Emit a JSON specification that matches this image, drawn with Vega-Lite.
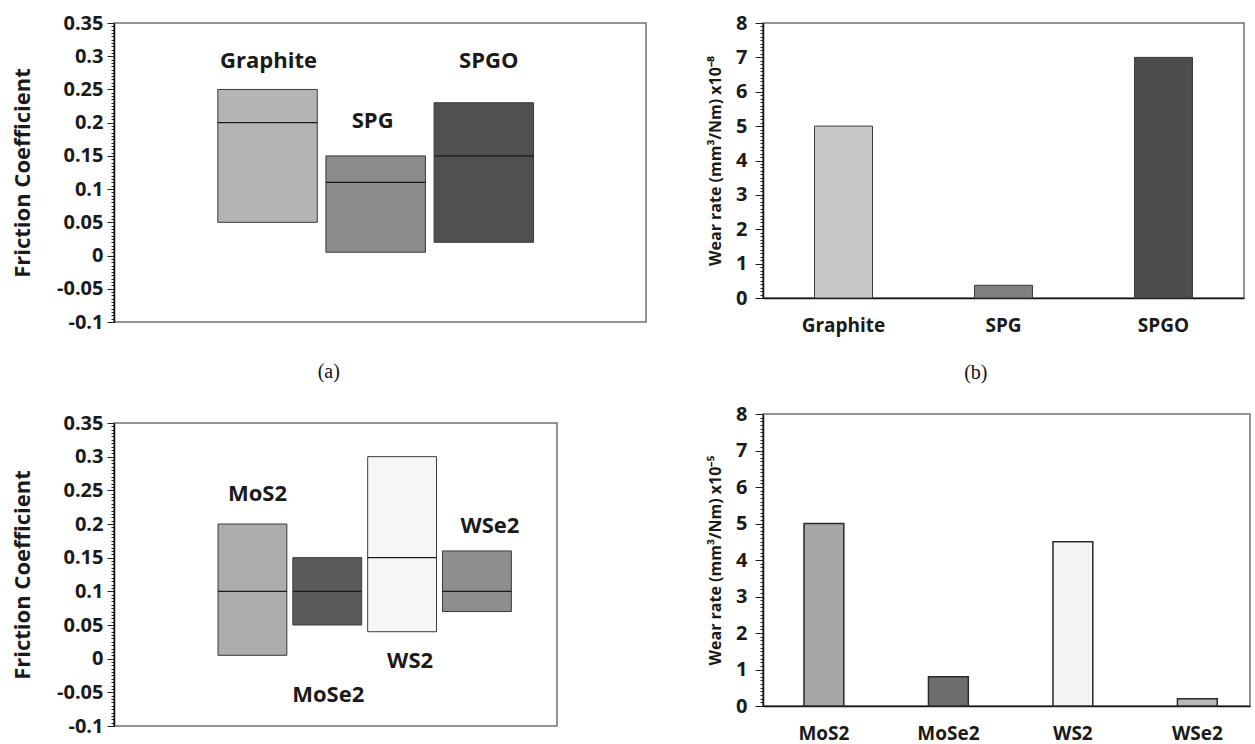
{
  "$schema": "https://vega.github.io/schema/vega-lite/v6.json",
  "background": "white",
  "padding": {"left": 10, "top": 12, "right": 0, "bottom": 0},
  "config": {
    "font": "Open Sans",
    "view": {"stroke": "#707070", "strokeWidth": 1.5},
    "text": {"font": "Open Sans", "fontWeight": "bold", "color": "#1a1a1a", "baseline": "middle"}
  },
  "datasets": {
    "friction1": [
      {"material": "Graphite", "low": 0.05, "high": 0.25, "mean": 0.2},
      {"material": "SPG", "low": 0.005, "high": 0.15, "mean": 0.11},
      {"material": "SPGO", "low": 0.02, "high": 0.23, "mean": 0.15}
    ],
    "wear1": [
      {"material": "Graphite", "wear": 5},
      {"material": "SPG", "wear": 0.37},
      {"material": "SPGO", "wear": 7}
    ],
    "friction2": [
      {"material": "MoS2", "low": 0.005, "high": 0.2, "mean": 0.1},
      {"material": "MoSe2", "low": 0.05, "high": 0.15, "mean": 0.1},
      {"material": "WS2", "low": 0.04, "high": 0.3, "mean": 0.15},
      {"material": "WSe2", "low": 0.07, "high": 0.16, "mean": 0.1}
    ],
    "wear2": [
      {"material": "MoS2", "wear": 5},
      {"material": "MoSe2", "wear": 0.8},
      {"material": "WS2", "wear": 4.5},
      {"material": "WSe2", "wear": 0.2}
    ]
  },
  "spacing": 59,
  "resolve": {"scale": {"fill": "independent"}},
  "hconcat": [
    {
      "spacing": 29,
      "resolve": {"scale": {"fill": "independent"}},
      "vconcat": [
        {
          "width": 532,
          "height": 299,
          "title": {"text": "(a)", "orient": "bottom", "frame": "bounds", "anchor": "middle", "font": "Liberation Serif", "fontSize": 20, "fontWeight": "normal", "color": "#111", "offset": 30},
          "data": {"name": "friction1"},
          "encoding": {
            "x": {"field": "material", "type": "nominal", "sort": null, "scale": {"paddingInner": 0.08, "paddingOuter": 1.53, "align": 0.48}, "axis": null},
            "y": {"field": "low", "type": "quantitative", "scale": {"domain": [-0.1, 0.35], "nice": false, "zero": false},
              "axis": {"title": "Friction Coefficient", "titleFontSize": 22, "titleFontWeight": "bold", "titleColor": "#1a1a1a", "titlePadding": 22,
                "values": [-0.1,-0.095,-0.09,-0.085,-0.08,-0.075,-0.07,-0.065,-0.06,-0.055,-0.05,-0.045,-0.04,-0.035,-0.03,-0.025,-0.02,-0.015,-0.01,-0.005,0,0.005,0.01,0.015,0.02,0.025,0.03,0.035,0.04,0.045,0.05,0.055,0.06,0.065,0.07,0.075,0.08,0.085,0.09,0.095,0.1,0.105,0.11,0.115,0.12,0.125,0.13,0.135,0.14,0.145,0.15,0.155,0.16,0.165,0.17,0.175,0.18,0.185,0.19,0.195,0.2,0.205,0.21,0.215,0.22,0.225,0.23,0.235,0.24,0.245,0.25,0.255,0.26,0.265,0.27,0.275,0.28,0.285,0.29,0.295,0.3,0.305,0.31,0.315,0.32,0.325,0.33,0.335,0.34,0.345,0.35],
                "labelExpr": "abs(datum.value*20 - round(datum.value*20)) < 0.01 ? replace(format(datum.value, '.2~f'), '−', '-') : ''",
                "labelOverlap": false, "labelFlush": false, "labelFontSize": 20, "labelFontWeight": "bold", "labelColor": "#1a1a1a", "labelPadding": 4,
                "tickSize": {"condition": {"test": "abs(datum.value*20 - round(datum.value*20)) < 0.01", "value": 7}, "value": 3},
                "tickColor": "#222", "tickWidth": 1, "domainColor": "#111", "domainWidth": 1.5, "grid": false}}
          },
          "layer": [
            {
              "mark": {"type": "bar", "stroke": "#3a3a3a", "strokeWidth": 1},
              "encoding": {
                "y2": {"field": "high"},
                "fill": {"field": "material", "type": "nominal", "scale": {"domain": ["Graphite", "SPG", "SPGO"], "range": ["#b4b4b4", "#8c8c8c", "#505050"]}, "legend": null}
              }
            },
            {
              "mark": {"type": "bar", "fillOpacity": 0, "stroke": "#1a1a1a", "strokeWidth": 1.2},
              "encoding": {"y": {"field": "mean", "type": "quantitative"}, "y2": {"field": "mean"}}
            },
            {"transform": [{"filter": "datum.material == 'Graphite'"}], "mark": {"type": "text", "fontSize": 22, "dy": -28, "dx": 1}, "encoding": {"y": {"field": "high", "type": "quantitative"}, "text": {"field": "material"}}},
            {"transform": [{"filter": "datum.material == 'SPG'"}], "mark": {"type": "text", "fontSize": 22, "dy": -35, "dx": -3}, "encoding": {"y": {"field": "high", "type": "quantitative"}, "text": {"field": "material"}}},
            {"transform": [{"filter": "datum.material == 'SPGO'"}], "mark": {"type": "text", "fontSize": 22, "dy": -42, "dx": 5}, "encoding": {"y": {"field": "high", "type": "quantitative"}, "text": {"field": "material"}}}
          ]
        },
        {
          "width": 443,
          "height": 303,
          "data": {"name": "friction2"},
          "encoding": {
            "x": {"field": "material", "type": "nominal", "sort": null, "scale": {"paddingInner": 0.08, "paddingOuter": 1.396, "align": 0.695}, "axis": null},
            "y": {"field": "low", "type": "quantitative", "scale": {"domain": [-0.1, 0.35], "nice": false, "zero": false},
              "axis": {"title": "Friction Coefficient", "titleFontSize": 22, "titleFontWeight": "bold", "titleColor": "#1a1a1a", "titlePadding": 22,
                "values": [-0.1,-0.095,-0.09,-0.085,-0.08,-0.075,-0.07,-0.065,-0.06,-0.055,-0.05,-0.045,-0.04,-0.035,-0.03,-0.025,-0.02,-0.015,-0.01,-0.005,0,0.005,0.01,0.015,0.02,0.025,0.03,0.035,0.04,0.045,0.05,0.055,0.06,0.065,0.07,0.075,0.08,0.085,0.09,0.095,0.1,0.105,0.11,0.115,0.12,0.125,0.13,0.135,0.14,0.145,0.15,0.155,0.16,0.165,0.17,0.175,0.18,0.185,0.19,0.195,0.2,0.205,0.21,0.215,0.22,0.225,0.23,0.235,0.24,0.245,0.25,0.255,0.26,0.265,0.27,0.275,0.28,0.285,0.29,0.295,0.3,0.305,0.31,0.315,0.32,0.325,0.33,0.335,0.34,0.345,0.35],
                "labelExpr": "abs(datum.value*20 - round(datum.value*20)) < 0.01 ? replace(format(datum.value, '.2~f'), '−', '-') : ''",
                "labelOverlap": false, "labelFlush": false, "labelFontSize": 20, "labelFontWeight": "bold", "labelColor": "#1a1a1a", "labelPadding": 4,
                "tickSize": {"condition": {"test": "abs(datum.value*20 - round(datum.value*20)) < 0.01", "value": 7}, "value": 3},
                "tickColor": "#222", "tickWidth": 1, "domainColor": "#111", "domainWidth": 1.5, "grid": false}}
          },
          "layer": [
            {
              "mark": {"type": "bar", "stroke": "#3a3a3a", "strokeWidth": 1},
              "encoding": {
                "y2": {"field": "high"},
                "fill": {"field": "material", "type": "nominal", "scale": {"domain": ["MoS2", "MoSe2", "WS2", "WSe2"], "range": ["#acacac", "#5a5a5a", "#f6f6f6", "#8e8e8e"]}, "legend": null}
              }
            },
            {
              "mark": {"type": "bar", "fillOpacity": 0, "stroke": "#1a1a1a", "strokeWidth": 1.2},
              "encoding": {"y": {"field": "mean", "type": "quantitative"}, "y2": {"field": "mean"}}
            },
            {"transform": [{"filter": "datum.material == 'MoS2'"}], "mark": {"type": "text", "fontSize": 22, "dy": -30, "dx": 5}, "encoding": {"y": {"field": "high", "type": "quantitative"}, "text": {"field": "material"}}},
            {"transform": [{"filter": "datum.material == 'MoSe2'"}], "mark": {"type": "text", "fontSize": 22, "dy": 70, "dx": 1}, "encoding": {"text": {"field": "material"}}},
            {"transform": [{"filter": "datum.material == 'WS2'"}], "mark": {"type": "text", "fontSize": 22, "dy": 29, "dx": 8}, "encoding": {"text": {"field": "material"}}},
            {"transform": [{"filter": "datum.material == 'WSe2'"}], "mark": {"type": "text", "fontSize": 22, "dy": -25, "dx": 13}, "encoding": {"y": {"field": "high", "type": "quantitative"}, "text": {"field": "material"}}}
          ]
        }
      ]
    },
    {
      "spacing": 19,
      "resolve": {"scale": {"fill": "independent"}},
      "vconcat": [
        {
          "width": 481,
          "height": 275,
          "title": {"text": "(b)", "orient": "bottom", "frame": "bounds", "anchor": "middle", "font": "Liberation Serif", "fontSize": 20, "fontWeight": "normal", "color": "#111", "offset": 28},
          "data": {"name": "wear1"},
          "mark": {"type": "bar", "stroke": "#3a3a3a", "strokeWidth": 1},
          "encoding": {
            "x": {"field": "material", "type": "nominal", "sort": null, "scale": {"paddingInner": 0.6375, "paddingOuter": 0.322, "align": 0.5},
              "axis": {"title": null, "labelAngle": 0, "labelFontSize": 19, "labelFontWeight": "bold", "labelColor": "#1a1a1a", "ticks": false, "labelPadding": 18, "domainColor": "#111", "domainWidth": 1.5}},
            "y": {"field": "wear", "type": "quantitative", "scale": {"domain": [0, 8], "nice": false},
              "axis": {"title": "Wear rate (mm³/Nm) x10⁻⁸", "titleFontSize": 16, "titleFontWeight": "bold", "titleColor": "#1a1a1a", "titlePadding": 12,
                "values": [0,0.1,0.2,0.3,0.4,0.5,0.6,0.7,0.8,0.9,1,1.1,1.2,1.3,1.4,1.5,1.6,1.7,1.8,1.9,2,2.1,2.2,2.3,2.4,2.5,2.6,2.7,2.8,2.9,3,3.1,3.2,3.3,3.4,3.5,3.6,3.7,3.8,3.9,4,4.1,4.2,4.3,4.4,4.5,4.6,4.7,4.8,4.9,5,5.1,5.2,5.3,5.4,5.5,5.6,5.7,5.8,5.9,6,6.1,6.2,6.3,6.4,6.5,6.6,6.7,6.8,6.9,7,7.1,7.2,7.3,7.4,7.5,7.6,7.7,7.8,7.9,8],
                "labelExpr": "abs(datum.value - round(datum.value)) < 0.01 ? format(datum.value, 'd') : ''",
                "labelOverlap": false, "labelFlush": false, "labelFontSize": 20, "labelFontWeight": "bold", "labelColor": "#1a1a1a", "labelPadding": 8,
                "tickSize": {"condition": {"test": "abs(datum.value - round(datum.value)) < 0.01", "value": 8}, "value": 3},
                "tickColor": "#222", "tickWidth": 1, "domainColor": "#111", "domainWidth": 1.5, "grid": false}},
            "fill": {"field": "material", "type": "nominal", "scale": {"domain": ["Graphite", "SPG", "SPGO"], "range": ["#c8c8c8", "#808080", "#4d4d4d"]}, "legend": null}
          }
        },
        {
          "width": 487,
          "height": 292,
          "data": {"name": "wear2"},
          "mark": {"type": "bar", "stroke": "#2a2a2a", "strokeWidth": 1.5},
          "encoding": {
            "x": {"field": "material", "type": "nominal", "sort": null, "scale": {"paddingInner": 0.68, "paddingOuter": 0.296, "align": 0.556},
              "axis": {"title": null, "labelAngle": 0, "labelFontSize": 19, "labelFontWeight": "bold", "labelColor": "#1a1a1a", "ticks": false, "labelPadding": 18, "domainColor": "#111", "domainWidth": 1.5}},
            "y": {"field": "wear", "type": "quantitative", "scale": {"domain": [0, 8], "nice": false},
              "axis": {"title": "Wear rate (mm³/Nm) x10⁻⁵", "titleFontSize": 16, "titleFontWeight": "bold", "titleColor": "#1a1a1a", "titlePadding": 12,
                "values": [0,0.1,0.2,0.3,0.4,0.5,0.6,0.7,0.8,0.9,1,1.1,1.2,1.3,1.4,1.5,1.6,1.7,1.8,1.9,2,2.1,2.2,2.3,2.4,2.5,2.6,2.7,2.8,2.9,3,3.1,3.2,3.3,3.4,3.5,3.6,3.7,3.8,3.9,4,4.1,4.2,4.3,4.4,4.5,4.6,4.7,4.8,4.9,5,5.1,5.2,5.3,5.4,5.5,5.6,5.7,5.8,5.9,6,6.1,6.2,6.3,6.4,6.5,6.6,6.7,6.8,6.9,7,7.1,7.2,7.3,7.4,7.5,7.6,7.7,7.8,7.9,8],
                "labelExpr": "abs(datum.value - round(datum.value)) < 0.01 ? format(datum.value, 'd') : ''",
                "labelOverlap": false, "labelFlush": false, "labelFontSize": 20, "labelFontWeight": "bold", "labelColor": "#1a1a1a", "labelPadding": 8,
                "tickSize": {"condition": {"test": "abs(datum.value - round(datum.value)) < 0.01", "value": 8}, "value": 3},
                "tickColor": "#222", "tickWidth": 1, "domainColor": "#111", "domainWidth": 1.5, "grid": false}},
            "fill": {"field": "material", "type": "nominal", "scale": {"domain": ["MoS2", "MoSe2", "WS2", "WSe2"], "range": ["#a6a6a6", "#6e6e6e", "#f4f4f4", "#b8b8b8"]}, "legend": null}
          }
        }
      ]
    }
  ]
}
